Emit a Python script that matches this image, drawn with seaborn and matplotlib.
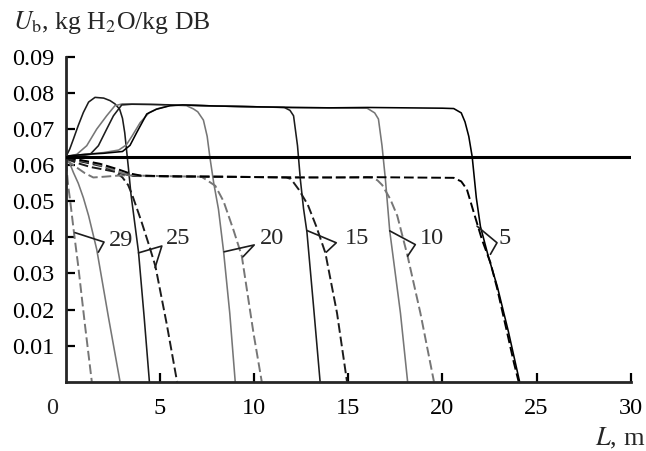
import matplotlib
matplotlib.use("Agg")
import matplotlib.pyplot as plt
import matplotlib.transforms as mtransforms
import seaborn as sns

# moisture profiles U_b(L); label = time
U_initial = 0.0624

L_5_solid = [0, 1.0, 2.0, 3.0, 3.4, 3.75, 4.29, 4.8, 5.53, 6.2, 8, 10, 12, 14, 16, 18, 20.0,
             20.6, 21.0, 21.2, 21.4, 21.58, 21.8, 22.02, 22.45, 22.91, 23.5, 24.1]
U_5_solid = [0.0625, 0.063, 0.0633, 0.0638, 0.0655, 0.069, 0.0742, 0.0755, 0.0765, 0.0767, 0.0764,
             0.0762, 0.076, 0.0759, 0.076, 0.0759, 0.0758, 0.0757, 0.0745, 0.072, 0.068, 0.0624,
             0.051, 0.043, 0.0345, 0.0265, 0.014, 0.0]
L_5_dash = [0, 0.8, 1.8, 2.8, 3.4, 4.0, 6, 8, 10, 12, 14, 16, 18, 20.6, 21.0, 21.3, 21.66,
            22.1, 22.55, 22.9, 23.4, 23.8, 24.05]
U_5_dash = [0.0621, 0.0614, 0.0604, 0.0588, 0.0577, 0.0571, 0.0569, 0.0568, 0.0567, 0.0566,
            0.0566, 0.0567, 0.0566, 0.0565, 0.0555, 0.0533, 0.047, 0.0394, 0.033, 0.026, 0.0145,
            0.0052, 0.0]

L_10_solid = [0, 1.0, 2.0, 2.8, 3.2, 3.5, 3.94, 4.4, 4.82, 5.5, 6.0, 8, 10, 12, 14, 16.0, 16.4,
              16.6, 16.79, 16.97, 17.2, 17.77, 18.15]
U_10_solid = [0.0625, 0.063, 0.0635, 0.0642, 0.0656, 0.068, 0.0718, 0.0745, 0.0756, 0.0765,
              0.0767, 0.0764, 0.0762, 0.076, 0.0759, 0.0758, 0.0745, 0.0728, 0.0654, 0.0561,
              0.0418, 0.019, 0.0]
L_10_dash = [0, 0.7, 1.5, 2.3, 3.0, 3.5, 5, 8, 11, 14, 16.3, 16.55, 16.8, 17.23, 17.6, 18.15,
             18.83, 19.55]
U_10_dash = [0.0622, 0.0614, 0.0605, 0.0592, 0.0578, 0.0572, 0.0569, 0.0568, 0.0567, 0.0566,
             0.0565, 0.0558, 0.0545, 0.0506, 0.046, 0.0348, 0.019, 0.0]

L_15_solid = [0, 0.6, 1.0, 1.28, 1.72, 2.16, 2.52, 2.96, 3.5, 6, 8, 10, 11.6, 11.9, 12.09,
              12.3, 12.45, 12.62, 12.8, 13.15, 13.5]
U_15_solid = [0.0625, 0.0627, 0.0628, 0.063, 0.0654, 0.07, 0.0737, 0.0767, 0.0769, 0.0767,
              0.0764, 0.0762, 0.076, 0.0752, 0.0737, 0.0654, 0.0561, 0.048, 0.0415, 0.021, 0.0]
L_15_dash = [0, 0.6, 1.3, 2.0, 2.6, 3.1, 3.6, 6, 9, 11.7, 11.95, 12.36, 12.85, 13.3, 13.78,
             14.4, 14.93]
U_15_dash = [0.0618, 0.0606, 0.0595, 0.0588, 0.0582, 0.0575, 0.057, 0.0569, 0.0568, 0.0566,
             0.0562, 0.0533, 0.049, 0.043, 0.0357, 0.019, 0.0]

L_20_solid = [0, 0.3, 0.57, 1.1, 1.63, 2.16, 2.6, 3.0, 4.5, 6.4, 6.77, 7.0, 7.3, 7.5, 7.65,
              7.85, 8.1, 8.37, 8.7, 8.99]
U_20_solid = [0.0625, 0.0627, 0.063, 0.0654, 0.07, 0.0737, 0.0765, 0.077, 0.0769, 0.0765,
              0.0756, 0.0748, 0.0725, 0.068, 0.062, 0.055, 0.0478, 0.0362, 0.019, 0.0]
L_20_dash = [0, 0.5, 1.0, 1.45, 2.0, 3.0, 5.0, 7.2, 7.5, 7.93, 8.37, 8.9, 9.34, 9.96, 10.4]
U_20_dash = [0.0615, 0.0596, 0.0578, 0.0566, 0.0568, 0.0572, 0.057, 0.0568, 0.0558, 0.0543,
             0.050, 0.042, 0.0348, 0.0135, 0.0]

L_25_solid = [0, 0.2, 0.39, 0.65, 0.92, 1.2, 1.54, 2.0, 2.34, 2.6, 2.85, 3.0, 3.12, 3.22,
              3.32, 3.45, 3.6, 3.85, 4.15, 4.43]
U_25_solid = [0.0624, 0.0645, 0.0672, 0.071, 0.0746, 0.0775, 0.0788, 0.0786, 0.0779, 0.077,
              0.0755, 0.073, 0.069, 0.064, 0.059, 0.052, 0.046, 0.036, 0.018, 0.0]
L_25_dash = [0, 1.0, 2.0, 2.6, 3.0, 3.3, 3.5, 3.7, 4.0, 4.4, 4.75, 5.35, 5.9]
U_25_dash = [0.0618, 0.0608, 0.0596, 0.0582, 0.0566, 0.0545, 0.052, 0.049, 0.0445, 0.038,
             0.032, 0.016, 0.0]

L_29_solid = [0, 0.2, 0.39, 0.65, 0.92, 1.2, 1.63, 2.25, 2.87]
U_29_solid = [0.0615, 0.0605, 0.058, 0.055, 0.051, 0.046, 0.0367, 0.018, 0.0]
L_29_dash = [0, 0.05, 0.12, 0.21, 0.43, 0.65, 1.0, 1.37]
U_29_dash = [0.061, 0.058, 0.054, 0.0506, 0.041, 0.032, 0.016, 0.0]

# curve labels with their leader lines (solid end, vertex, dashed end)
labels = ["29", "25", "20", "15", "10", "5"]
label_L = [2.3, 5.3, 10.3, 14.8, 18.78, 22.98]
label_U = [0.0375, 0.0381, 0.0381, 0.0381, 0.0381, 0.0381]
leaders = [
    [(1.72, 0.0359), (2.02, 0.0387), (0.48, 0.0413)],
    [(3.85, 0.0357), (5.09, 0.0376), (4.73, 0.0316)],
    [(8.4, 0.036), (10.0, 0.0379), (9.4, 0.0346)],
    [(12.8, 0.0419), (14.36, 0.0385), (13.83, 0.0359)],
    [(17.2, 0.0418), (18.56, 0.038), (18.15, 0.0348)],
    [(21.84, 0.0431), (22.9, 0.0385), (22.55, 0.0353)],
]

x_ticks = [5, 10, 15, 20, 25, 30]
y_ticks = [0.01, 0.02, 0.03, 0.04, 0.05, 0.06, 0.07, 0.08, 0.09]

sns.set_style("ticks")
plt.rcParams["font.family"] = ["Liberation Serif", "DejaVu Serif"]
plt.rcParams["mathtext.fontset"] = "stix"

GRAY = "#767676"
DARK = "#1c1c1c"
FS = 17.5

curves = [
    (L_29_solid, U_29_solid, GRAY, False), (L_29_dash, U_29_dash, GRAY, True),
    (L_25_solid, U_25_solid, DARK, False), (L_25_dash, U_25_dash, DARK, True),
    (L_20_solid, U_20_solid, GRAY, False), (L_20_dash, U_20_dash, GRAY, True),
    (L_15_solid, U_15_solid, DARK, False), (L_15_dash, U_15_dash, DARK, True),
    (L_10_solid, U_10_solid, GRAY, False), (L_10_dash, U_10_dash, GRAY, True),
    (L_5_solid, U_5_solid, "black", False), (L_5_dash, U_5_dash, "black", True),
]

fig = plt.figure(figsize=(6.46, 4.51), dpi=100)
ax = fig.add_axes([0.1022, 0.1537, 0.874, 0.72])

for L, U, col, dashed in curves:
    if dashed:
        sns.lineplot(x=L, y=U, ax=ax, color=col, linewidth=1.4, linestyle=(0, (5, 2)),
                     sort=False, estimator=None, legend=False)
    else:
        sns.lineplot(x=L, y=U, ax=ax, color=col, linewidth=1.15,
                     sort=False, estimator=None, legend=False)

ax.axhline(U_initial, color="black", linewidth=2.2, zorder=5)

# labels and leader lines
for lab, lx, ly, pts in zip(labels, label_L, label_U, leaders):
    xs = [p[0] for p in pts]
    ys = [p[1] for p in pts]
    ax.plot(xs, ys, color=DARK, linewidth=1.2)
    ax.text(lx, ly, lab, fontsize=FS, ha="left", va="baseline")

ax.set_xlim(0, 30)
ax.set_ylim(0, 0.09)
ax.set_xticks(x_ticks)
ax.set_xticklabels([str(t) for t in x_ticks])
ax.set_yticks(y_ticks)
ax.set_yticklabels([f"{t:.2f}" for t in y_ticks])
ax.set_xlabel("")
ax.set_ylabel("")
sns.despine(ax=ax)
for s in ["left", "bottom"]:
    ax.spines[s].set_linewidth(2.0)
ax.tick_params(axis="both", direction="in", length=6.5, width=1.6, labelsize=FS, colors="black")
ax.tick_params(axis="x", pad=11.5)
ax.tick_params(axis="y", pad=8.5)

# "0" at the corner, shifted left of the axis
off = mtransforms.ScaledTranslation(-13.5 / 100, -11.5 / 72, fig.dpi_scale_trans)
ax.text(0, 0, "0", fontsize=FS, ha="center", va="top", transform=ax.transData + off)

fig.text(13.3 / 646, 1 - 29.3 / 451, r"$U_{\mathrm{b}}$, kg H$_2$O/kg DB",
         fontsize=18.5, ha="left", va="baseline")
fig.text(645 / 646, 1 - 445 / 451, r"$L$, m", fontsize=19, ha="right", va="baseline")

fig.savefig("out.png", dpi=100)
